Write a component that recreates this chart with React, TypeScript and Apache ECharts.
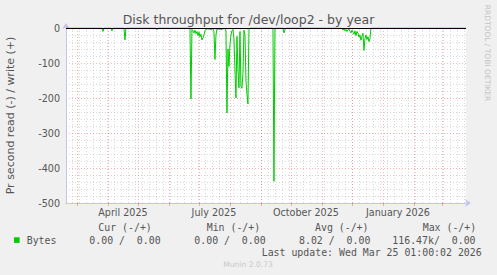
import React, { useEffect, useRef } from 'react';
import * as echarts from 'echarts';

const chartTitle = 'Disk throughput for /dev/loop2 - by year';
const yAxisName = 'Pr second read (-) / write (+)';
const rangeStart = '2025-02-18T01:00:00Z';
const rangeEnd = '2026-03-25T01:00:00Z';

const yMin = -500;
const yMax = 0;
const yInterval = 100;

// Bytes read per second (drawn negative), daily points
const pointDates = [
  '2025-02-18',
  '2025-03-26', '2025-03-27', '2025-03-28',
  '2025-04-04', '2025-04-05', '2025-04-06',
  '2025-04-17', '2025-04-18', '2025-04-19',
  '2025-05-19', '2025-05-20', '2025-05-21',
  '2025-06-22', '2025-06-23', '2025-06-24', '2025-06-25', '2025-06-26', '2025-06-27', '2025-06-28', '2025-06-29', '2025-06-30',
  '2025-07-01', '2025-07-02', '2025-07-03', '2025-07-04', '2025-07-05', '2025-07-06', '2025-07-07', '2025-07-08', '2025-07-09', '2025-07-10',
  '2025-07-11', '2025-07-12', '2025-07-13', '2025-07-14', '2025-07-15', '2025-07-16', '2025-07-17', '2025-07-18', '2025-07-19', '2025-07-20',
  '2025-07-21', '2025-07-22', '2025-07-23', '2025-07-24', '2025-07-25', '2025-07-26', '2025-07-27', '2025-07-28', '2025-07-29', '2025-07-30',
  '2025-07-31', '2025-08-01', '2025-08-02', '2025-08-03', '2025-08-04', '2025-08-05', '2025-08-06', '2025-08-07', '2025-08-08', '2025-08-09',
  '2025-08-10', '2025-08-11', '2025-08-12', '2025-08-13', '2025-08-14', '2025-08-15', '2025-08-16', '2025-08-17', '2025-08-18', '2025-08-19',
  '2025-08-20', '2025-08-21',
  '2025-09-13', '2025-09-14', '2025-09-15',
  '2025-09-23', '2025-09-24', '2025-09-25', '2025-09-26',
  '2025-11-20', '2025-11-21', '2025-11-22', '2025-11-23', '2025-11-24', '2025-11-25', '2025-11-26', '2025-11-27', '2025-11-28', '2025-11-29', '2025-11-30',
  '2025-12-01', '2025-12-02', '2025-12-03', '2025-12-04', '2025-12-05', '2025-12-06', '2025-12-07', '2025-12-08', '2025-12-09', '2025-12-10',
  '2025-12-11', '2025-12-12', '2025-12-13', '2025-12-14', '2025-12-15', '2025-12-16', '2025-12-17', '2025-12-18', '2025-12-19', '2025-12-20',
  '2026-03-25',
];
const readValues = [
  0,
  0, -10, 0,
  0, -8, 0,
  0, -34, 0,
  0, -5, 0,
  0, -203, -4, -8, -14, -6, -16, -10, -22,
  -12, -25, -18, -34, -28, -20, -8, -4, -3, -2,
  -4, -2, -6, -1, -2, -10, -90, -20, -3, -5,
  -2, -4, -3, -5, -2, -2, -1, -10, -243, -60,
  -110, -48, -20, -8, -4, -30, -120, -200, -24, -120,
  -171, -10, -167, -172, -130, -6, -20, -150, -190, -217,
  -5, 0,
  0, -438, 0,
  0, -14, -5, 0,
  0, -3, -6, -2, -8, -4, -10, -5, -3, -9, -14,
  -6, -12, -18, -8, -22, -10, -15, -26, -20, -35,
  -24, -15, -64, -30, -20, -33, -25, -39, -31, 0,
  0,
];

const xLabelTexts = ['April 2025', 'July 2025', 'October 2025', 'January 2026'];
const xLabelDates = ['2025-04-16', '2025-07-16', '2025-10-16', '2026-01-16'];
const monthGridDates = [
  '2025-03-01', '2025-04-01', '2025-05-01', '2025-06-01', '2025-07-01', '2025-08-01', '2025-09-01',
  '2025-10-01', '2025-11-01', '2025-12-01', '2026-01-01', '2026-02-01', '2026-03-01',
];
const firstWeekDate = '2025-02-24';

const legendName = 'Bytes';
const legendHeaders = ['Cur (-/+)', 'Min (-/+)', 'Avg (-/+)', 'Max (-/+)'];
const legendValues = ['0.00 /  0.00', '0.00 /  0.00', '8.02 /  0.00', '116.47k/  0.00'];
const lastUpdate = 'Last update: Wed Mar 25 01:00:02 2026';
const muninVersion = 'Munin 2.0.73';
const rrdCredit = 'RRDTOOL / TOBI OETIKER';

const ts = (s: string) => Date.parse(s.length === 10 ? s + 'T00:00:00Z' : s);

export default function App() {
  const ref = useRef<HTMLDivElement>(null);
  useEffect(() => {
    if (!ref.current) return;
    const chart = echarts.init(ref.current, undefined, { renderer: 'svg' });
    const xMin = ts(rangeStart);
    const xMax = ts(rangeEnd);
    const weekTs: number[] = [];
    for (let t = ts(firstWeekDate); t < xMax; t += 7 * 86400000) weekTs.push(t);
    const monthTs = monthGridDates.map(ts);
    const labelTs = xLabelDates.map(ts);
    const data = pointDates.map((d, i) => [ts(d), readValues[i]]);

    const grey = 'rgba(150,150,150,0.35)';
    const red = 'rgba(240,60,60,0.38)';
    const axisBlue = '#c4c4ee';
    const textColor = '#555';
    const mono = 'DejaVu Sans Mono';

    const legendLeft = [98.3, 206.7, 315, 422.7];
    const valueLeft = [89.3, 194.3, 299, 392.3];

    chart.setOption({
      animation: false,
      backgroundColor: '#f0f0f0',
      textStyle: { fontFamily: 'DejaVu Sans' },
      title: {
        text: chartTitle,
        left: 'center',
        top: 12.5,
        padding: 0,
        textStyle: { fontSize: 12.5, fontWeight: 'normal', color: textColor, fontFamily: 'DejaVu Sans' },
      },
      grid: {
        left: 66, top: 28, width: 400, height: 175, show: true, backgroundColor: '#ffffff', borderWidth: 0,
        containLabel: false, outerBoundsMode: 'none',
      },
      xAxis: [
        {
          type: 'value', min: xMin, max: xMax, position: 'bottom',
          axisLine: { show: false },
          axisLabel: { show: false },
          axisTick: { show: true, customValues: weekTs, length: 2, lineStyle: { color: grey } },
          splitLine: { show: true, lineStyle: { color: grey, type: [1, 2], width: 1 } },
        },
        {
          type: 'value', min: xMin, max: xMax, position: 'bottom',
          axisLine: { show: false },
          axisLabel: { show: false },
          axisTick: { show: true, customValues: monthTs, length: 3, lineStyle: { color: red } },
          splitLine: { show: true, lineStyle: { color: red, type: [1, 2], width: 1 } },
        },
        {
          type: 'value', min: xMin, max: xMax, position: 'bottom',
          axisLine: {
            show: true, lineStyle: { color: axisBlue, width: 1 },
            symbol: ['none', 'arrow'], symbolSize: [6, 6], symbolOffset: [0, 5],
          },
          axisTick: { show: false },
          splitLine: { show: false },
          axisLabel: {
            customValues: labelTs,
            formatter: (v: number) => {
              const i = labelTs.indexOf(v);
              return i >= 0 ? xLabelTexts[i] : '';
            },
            margin: 4, fontSize: 9.6, color: textColor, fontFamily: 'DejaVu Sans',
          },
        },
      ],
      yAxis: {
        type: 'value', min: yMin, max: yMax, interval: yInterval,
        name: yAxisName, nameLocation: 'middle', nameGap: 50.5,
        nameTextStyle: { fontSize: 11, color: textColor, fontFamily: 'DejaVu Sans' },
        axisLine: {
          show: true, lineStyle: { color: axisBlue, width: 1 },
          symbol: ['none', 'arrow'], symbolSize: [6, 6], symbolOffset: [0, 5],
        },
        axisTick: { show: false },
        axisLabel: { fontSize: 9.6, color: textColor, margin: 6, fontFamily: 'DejaVu Sans' },
        splitLine: { show: true, lineStyle: { color: red, type: [1, 2], width: 1 } },
        minorTick: { show: false, splitNumber: 5 },
        minorSplitLine: { show: true, lineStyle: { color: grey, type: [1, 2], width: 1 } },
      },
      series: [
        {
          type: 'line',
          name: legendName,
          xAxisIndex: 0,
          data,
          showSymbol: false,
          symbol: 'none',
          lineStyle: { color: '#00cc00', width: 1 },
          itemStyle: { color: '#00cc00' },
          silent: true,
          markLine: {
            silent: true,
            symbol: ['none', 'none'],
            label: { show: false },
            lineStyle: { color: '#000000', type: 'solid', width: 1 },
            data: [{ yAxis: 0 }],
          },
          z: 3,
        },
      ],
      graphic: [
        {
          type: 'text', x: 487, y: 53, rotation: -Math.PI / 2,
          style: { text: rrdCredit, fill: '#c4c4c4', font: '7.5px "DejaVu Sans"', textAlign: 'center', textVerticalAlign: 'middle' },
        },
        ...legendHeaders.map((h, i) => ({
          type: 'text', x: legendLeft[i], y: 227,
          style: { text: h, fill: textColor, font: `9.9px "${mono}"`, textAlign: 'left', textVerticalAlign: 'middle' },
        })),
        {
          type: 'rect', shape: { x: 14, y: 237.3, width: 5.6, height: 5.6 },
          style: { fill: '#00cc00' },
        },
        {
          type: 'text', x: 26.7, y: 240,
          style: { text: legendName, fill: textColor, font: `9.9px "${mono}"`, textAlign: 'left', textVerticalAlign: 'middle' },
        },
        ...legendValues.map((v, i) => ({
          type: 'text', x: valueLeft[i], y: 240,
          style: { text: v, fill: textColor, font: `9.9px "${mono}"`, textAlign: 'left', textVerticalAlign: 'middle' },
        })),
        {
          type: 'text', x: 261.7, y: 252,
          style: { text: lastUpdate, fill: textColor, font: `9.9px "${mono}"`, textAlign: 'left', textVerticalAlign: 'middle' },
        },
        {
          type: 'text', x: 248, y: 264,
          style: { text: muninVersion, fill: '#c8c8c8', font: '7.6px "DejaVu Sans"', textAlign: 'center', textVerticalAlign: 'middle' },
        },
      ],
    });
    return () => chart.dispose();
  }, []);
  return <div ref={ref} style={{ position: 'absolute', left: 0, top: 0, width: 497, height: 275 }} />;
}
